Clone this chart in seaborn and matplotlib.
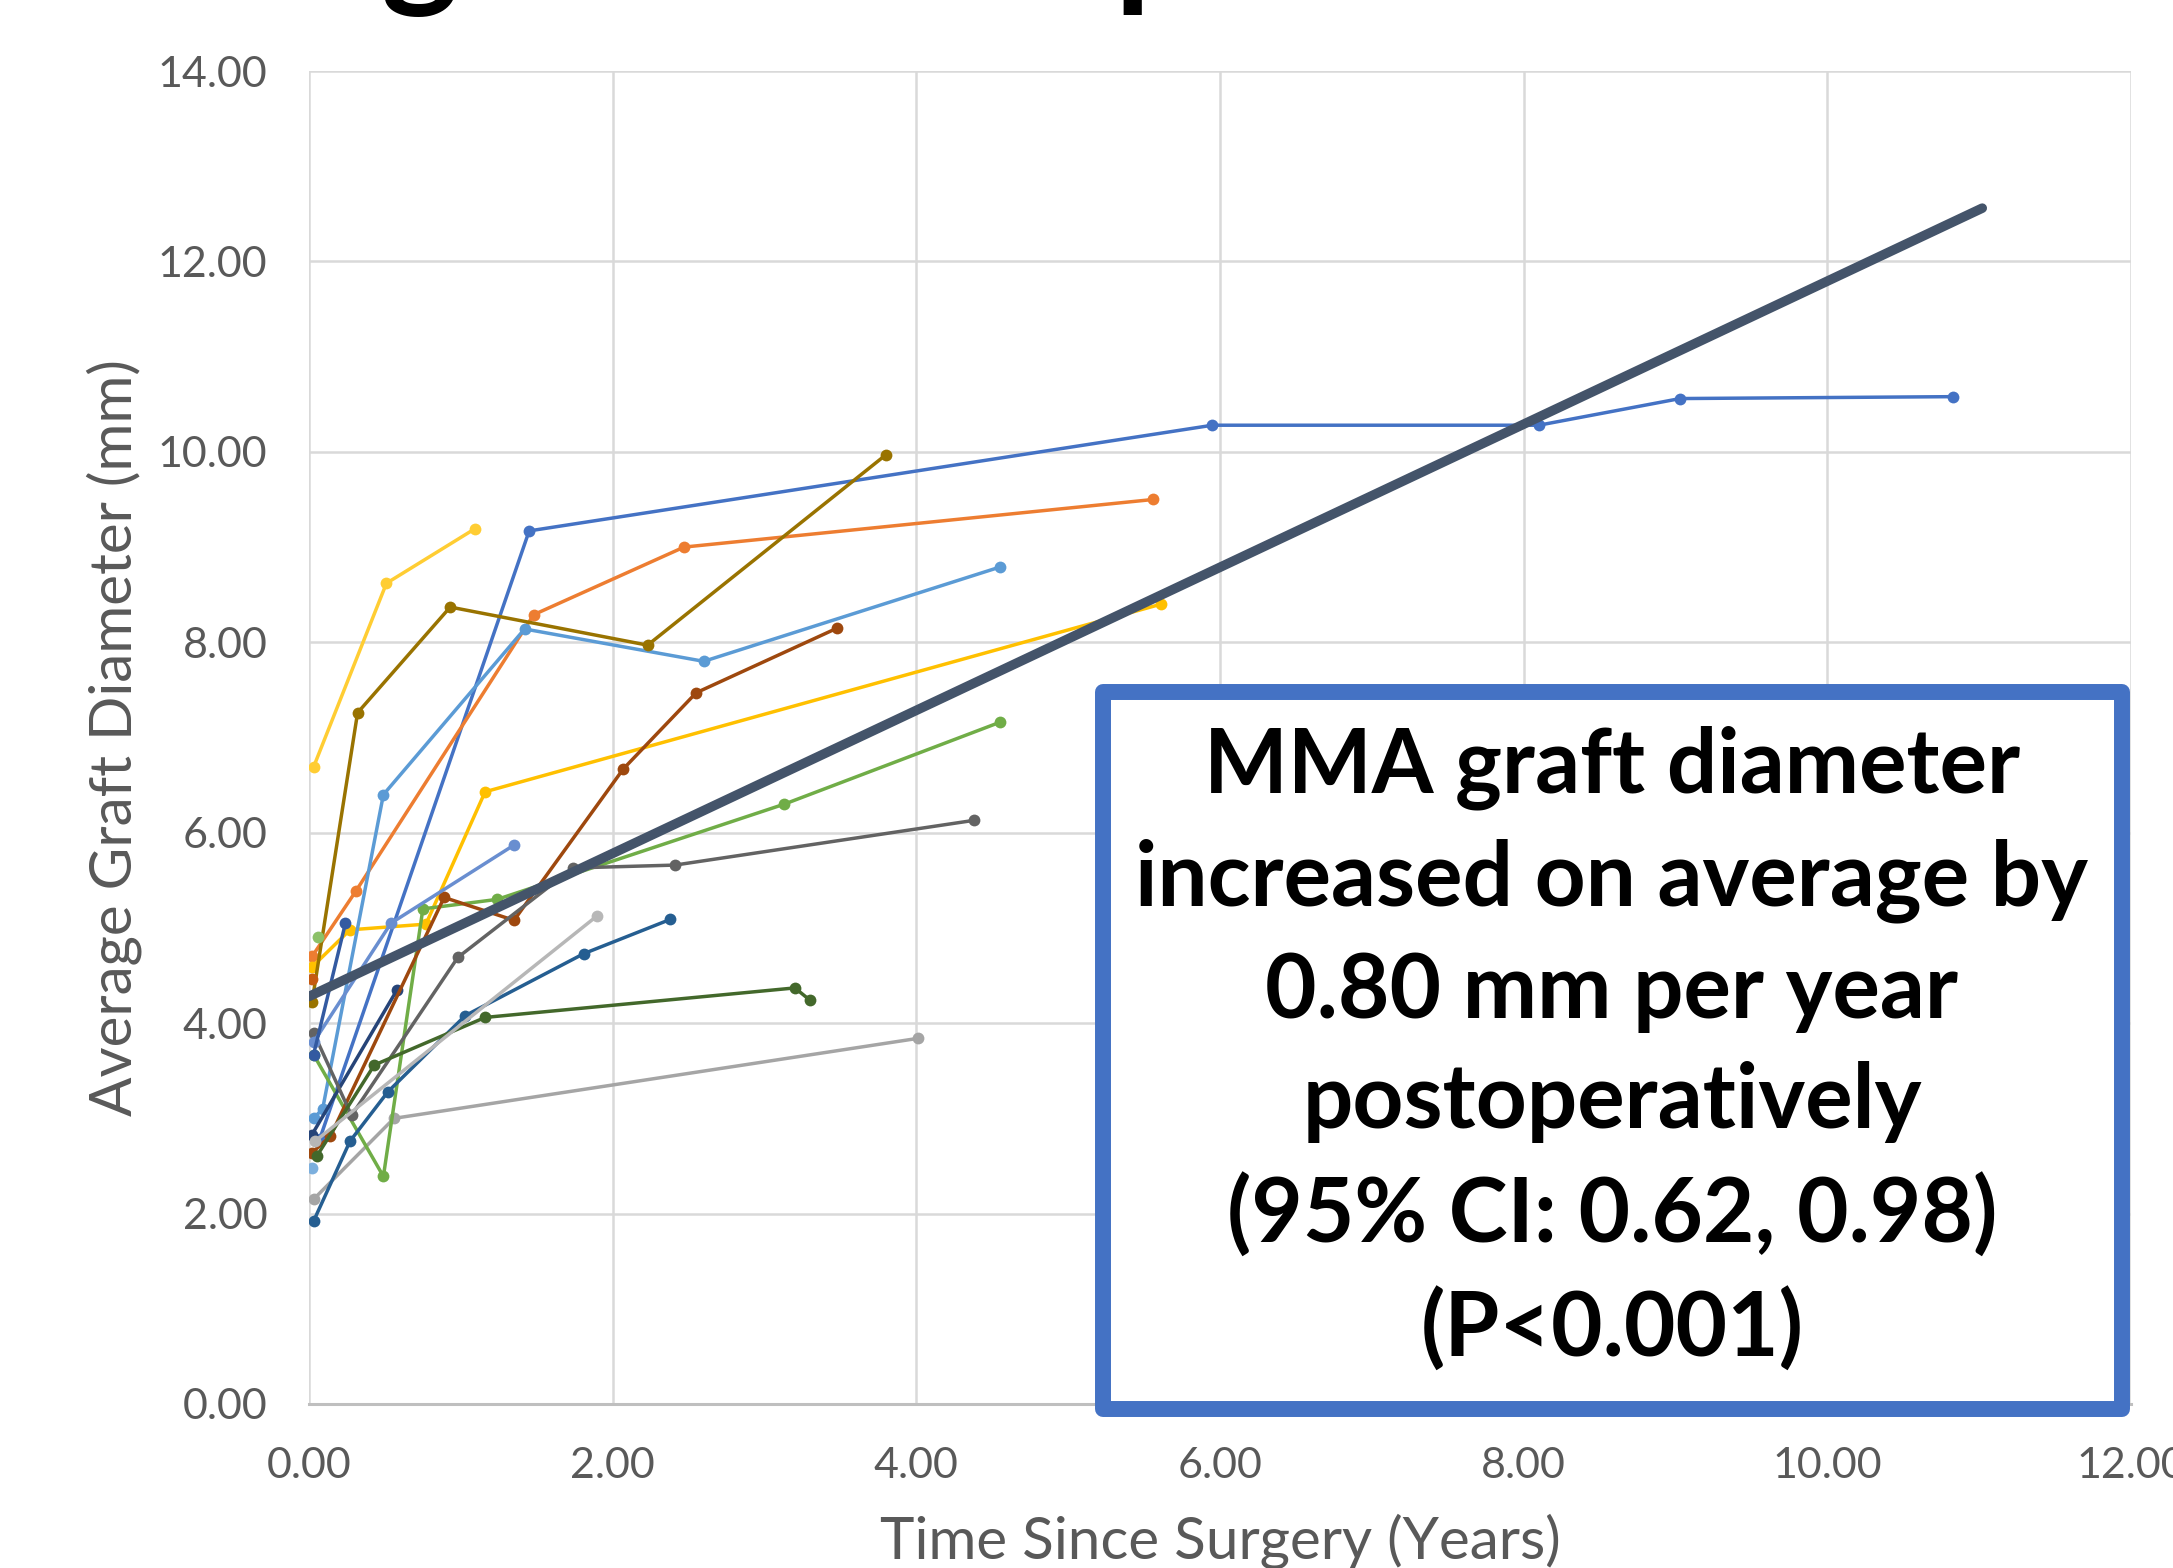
import matplotlib
matplotlib.use("Agg")
import matplotlib.pyplot as plt
from matplotlib.patches import Rectangle
from matplotlib.ticker import FormatStrFormatter
import seaborn as sns
import pandas as pd

# time since surgery (years) / average graft diameter (mm), one pair per patient
p01_t = [0.07, 1.45, 5.95, 8.10, 9.03, 10.83]
p01_d = [2.78, 9.17, 10.28, 10.28, 10.56, 10.58]
p02_t = [0.02, 0.31, 1.48, 2.47, 5.56]
p02_d = [4.70, 5.39, 8.29, 9.00, 9.50]
p03_t = [0.03, 0.56, 4.01]
p03_d = [2.15, 3.00, 3.84]
p04_t = [0.02, 0.27, 0.77, 1.16, 5.61]
p04_d = [4.59, 4.98, 5.04, 6.43, 8.40]
p05_t = [0.03, 0.09, 0.49, 1.42, 2.60, 4.55]
p05_d = [3.00, 3.10, 6.40, 8.14, 7.80, 8.79]
p06_t = [0.03, 0.49, 0.75, 1.24, 3.13, 4.55]
p06_d = [3.67, 2.39, 5.20, 5.30, 6.30, 7.16]
p07_t = [0.02, 0.58]
p07_d = [2.83, 4.35]
p08_t = [0.02, 0.14, 0.89, 1.35, 2.07, 2.55, 3.48]
p08_d = [2.64, 2.81, 5.32, 5.08, 6.67, 7.47, 8.15]
p09_t = [0.03, 0.28, 0.98, 1.74, 2.41, 4.38]
p09_d = [3.90, 3.03, 4.69, 5.63, 5.66, 6.13]
p10_t = [0.02, 0.32, 0.93, 2.23, 3.80]
p10_d = [4.22, 7.26, 8.37, 7.97, 9.97]
p11_t = [0.03, 0.27, 0.52, 1.03, 1.81, 2.38]
p11_d = [1.92, 2.76, 3.28, 4.08, 4.73, 5.09]
p12_t = [0.05, 0.43, 1.16, 3.20, 3.30]
p12_d = [2.60, 3.56, 4.06, 4.37, 4.24]
p13_t = [0.03, 0.54, 1.35]
p13_d = [3.80, 5.05, 5.87]
p14_t = [0.04, 1.90]
p14_d = [2.76, 5.13]
p15_t = [0.03, 0.51, 1.09]
p15_d = [6.69, 8.62, 9.19]
p16_t = [0.02]
p16_d = [2.48]
p17_t = [0.06]
p17_d = [4.90]
p18_t = [0.03, 0.24]
p18_d = [3.67, 5.05]
p19_t = [0.02]
p19_d = [4.46]

# average trend
trend_t = [0.0, 11.02]
trend_d = [4.28, 12.56]

x_ticks = [0, 2, 4, 6, 8, 10, 12]
y_ticks = [0, 2, 4, 6, 8, 10, 12, 14]

note_lines = [
    "MMA graft diameter",
    "increased on average by",
    "0.80 mm per year",
    "postoperatively",
    "(95% CI: 0.62, 0.98)",
    "(P<0.001)",
]

patients = [
    ("P01", p01_t, p01_d), ("P02", p02_t, p02_d), ("P03", p03_t, p03_d),
    ("P04", p04_t, p04_d), ("P05", p05_t, p05_d), ("P06", p06_t, p06_d),
    ("P07", p07_t, p07_d), ("P08", p08_t, p08_d), ("P09", p09_t, p09_d),
    ("P10", p10_t, p10_d), ("P11", p11_t, p11_d), ("P12", p12_t, p12_d),
    ("P13", p13_t, p13_d), ("P14", p14_t, p14_d), ("P15", p15_t, p15_d),
    ("P16", p16_t, p16_d), ("P17", p17_t, p17_d), ("P18", p18_t, p18_d),
    ("P19", p19_t, p19_d),
]
colors = ["#4472C4", "#ED7D31", "#A5A5A5", "#FFC000", "#5B9BD5", "#70AD47",
          "#264478", "#9E480E", "#636363", "#997300", "#255E91", "#43682B",
          "#698ED0", "#B7B7B7", "#FFCD33", "#7CAFDD", "#8CC168", "#335AA1",
          "#C55A11"]

rows = []
for name, t, d in patients:
    for ti, di in zip(t, d):
        rows.append({"patient": name, "time": ti, "diameter": di})
df = pd.DataFrame(rows)

sns.set_theme(style="white")
plt.rcParams["font.family"] = ["Lato", "DejaVu Sans"]

fig = plt.figure(figsize=(21.73, 15.68), dpi=100)
ax = fig.add_axes([0.1422, 0.1046, 0.9807 - 0.1422, 0.9547 - 0.1046])

order = [p[0] for p in patients]
sns.lineplot(data=df, x="time", y="diameter", hue="patient", hue_order=order,
             palette=dict(zip(order, colors)), estimator=None, sort=False,
             marker="o", markersize=8.5, markeredgewidth=0, linewidth=2.5,
             legend=False, ax=ax)
sns.lineplot(x=trend_t, y=trend_d, color="#44546A", linewidth=6.9,
             estimator=None, ax=ax, zorder=5)

ax.set_xlim(0, 12)
ax.set_ylim(0, 14)
ax.set_xticks(x_ticks)
ax.set_yticks(y_ticks)
ax.xaxis.set_major_formatter(FormatStrFormatter("%.2f"))
ax.yaxis.set_major_formatter(FormatStrFormatter("%.2f"))
ax.tick_params(axis="both", length=0, labelsize=31, labelcolor="#595959")
ax.tick_params(axis="x", pad=31)
ax.tick_params(axis="y", pad=30)
ax.grid(True, color="#D9D9D9", linewidth=1.8)
for side in ["top", "right", "left"]:
    ax.spines[side].set_visible(False)
ax.spines["bottom"].set_color("#BFBFBF")
ax.spines["bottom"].set_linewidth(2.2)

ax.set_xlabel("Time Since Surgery (Years)", fontsize=42, color="#595959")
ax.set_ylabel("Average Graft Diameter (mm)", fontsize=42, color="#595959")
ax.xaxis.set_label_coords(0.5, -0.082)
ax.yaxis.set_label_coords(-0.107, 0.5)
ax.yaxis.label.set_verticalalignment("center")

# title sits above the canvas, only its descenders show
fig.text(-0.003, 1.0064, "Average Graft Expansion", fontsize=106,
         fontweight="bold", color="black", ha="left", va="baseline")

box = Rectangle((0.5076, 0.1014), 0.4689, 0.4573, transform=fig.transFigure,
                facecolor="white", edgecolor="#4472C4", linewidth=11.5,
                joinstyle="round", zorder=10)
fig.add_artist(box)
fig.text(0.7418, 0.331, "\n".join(note_lines), ha="center", va="center",
         fontsize=64, fontweight="bold", color="black", linespacing=1.42,
         zorder=11)

fig.savefig("out.png", dpi=100)
